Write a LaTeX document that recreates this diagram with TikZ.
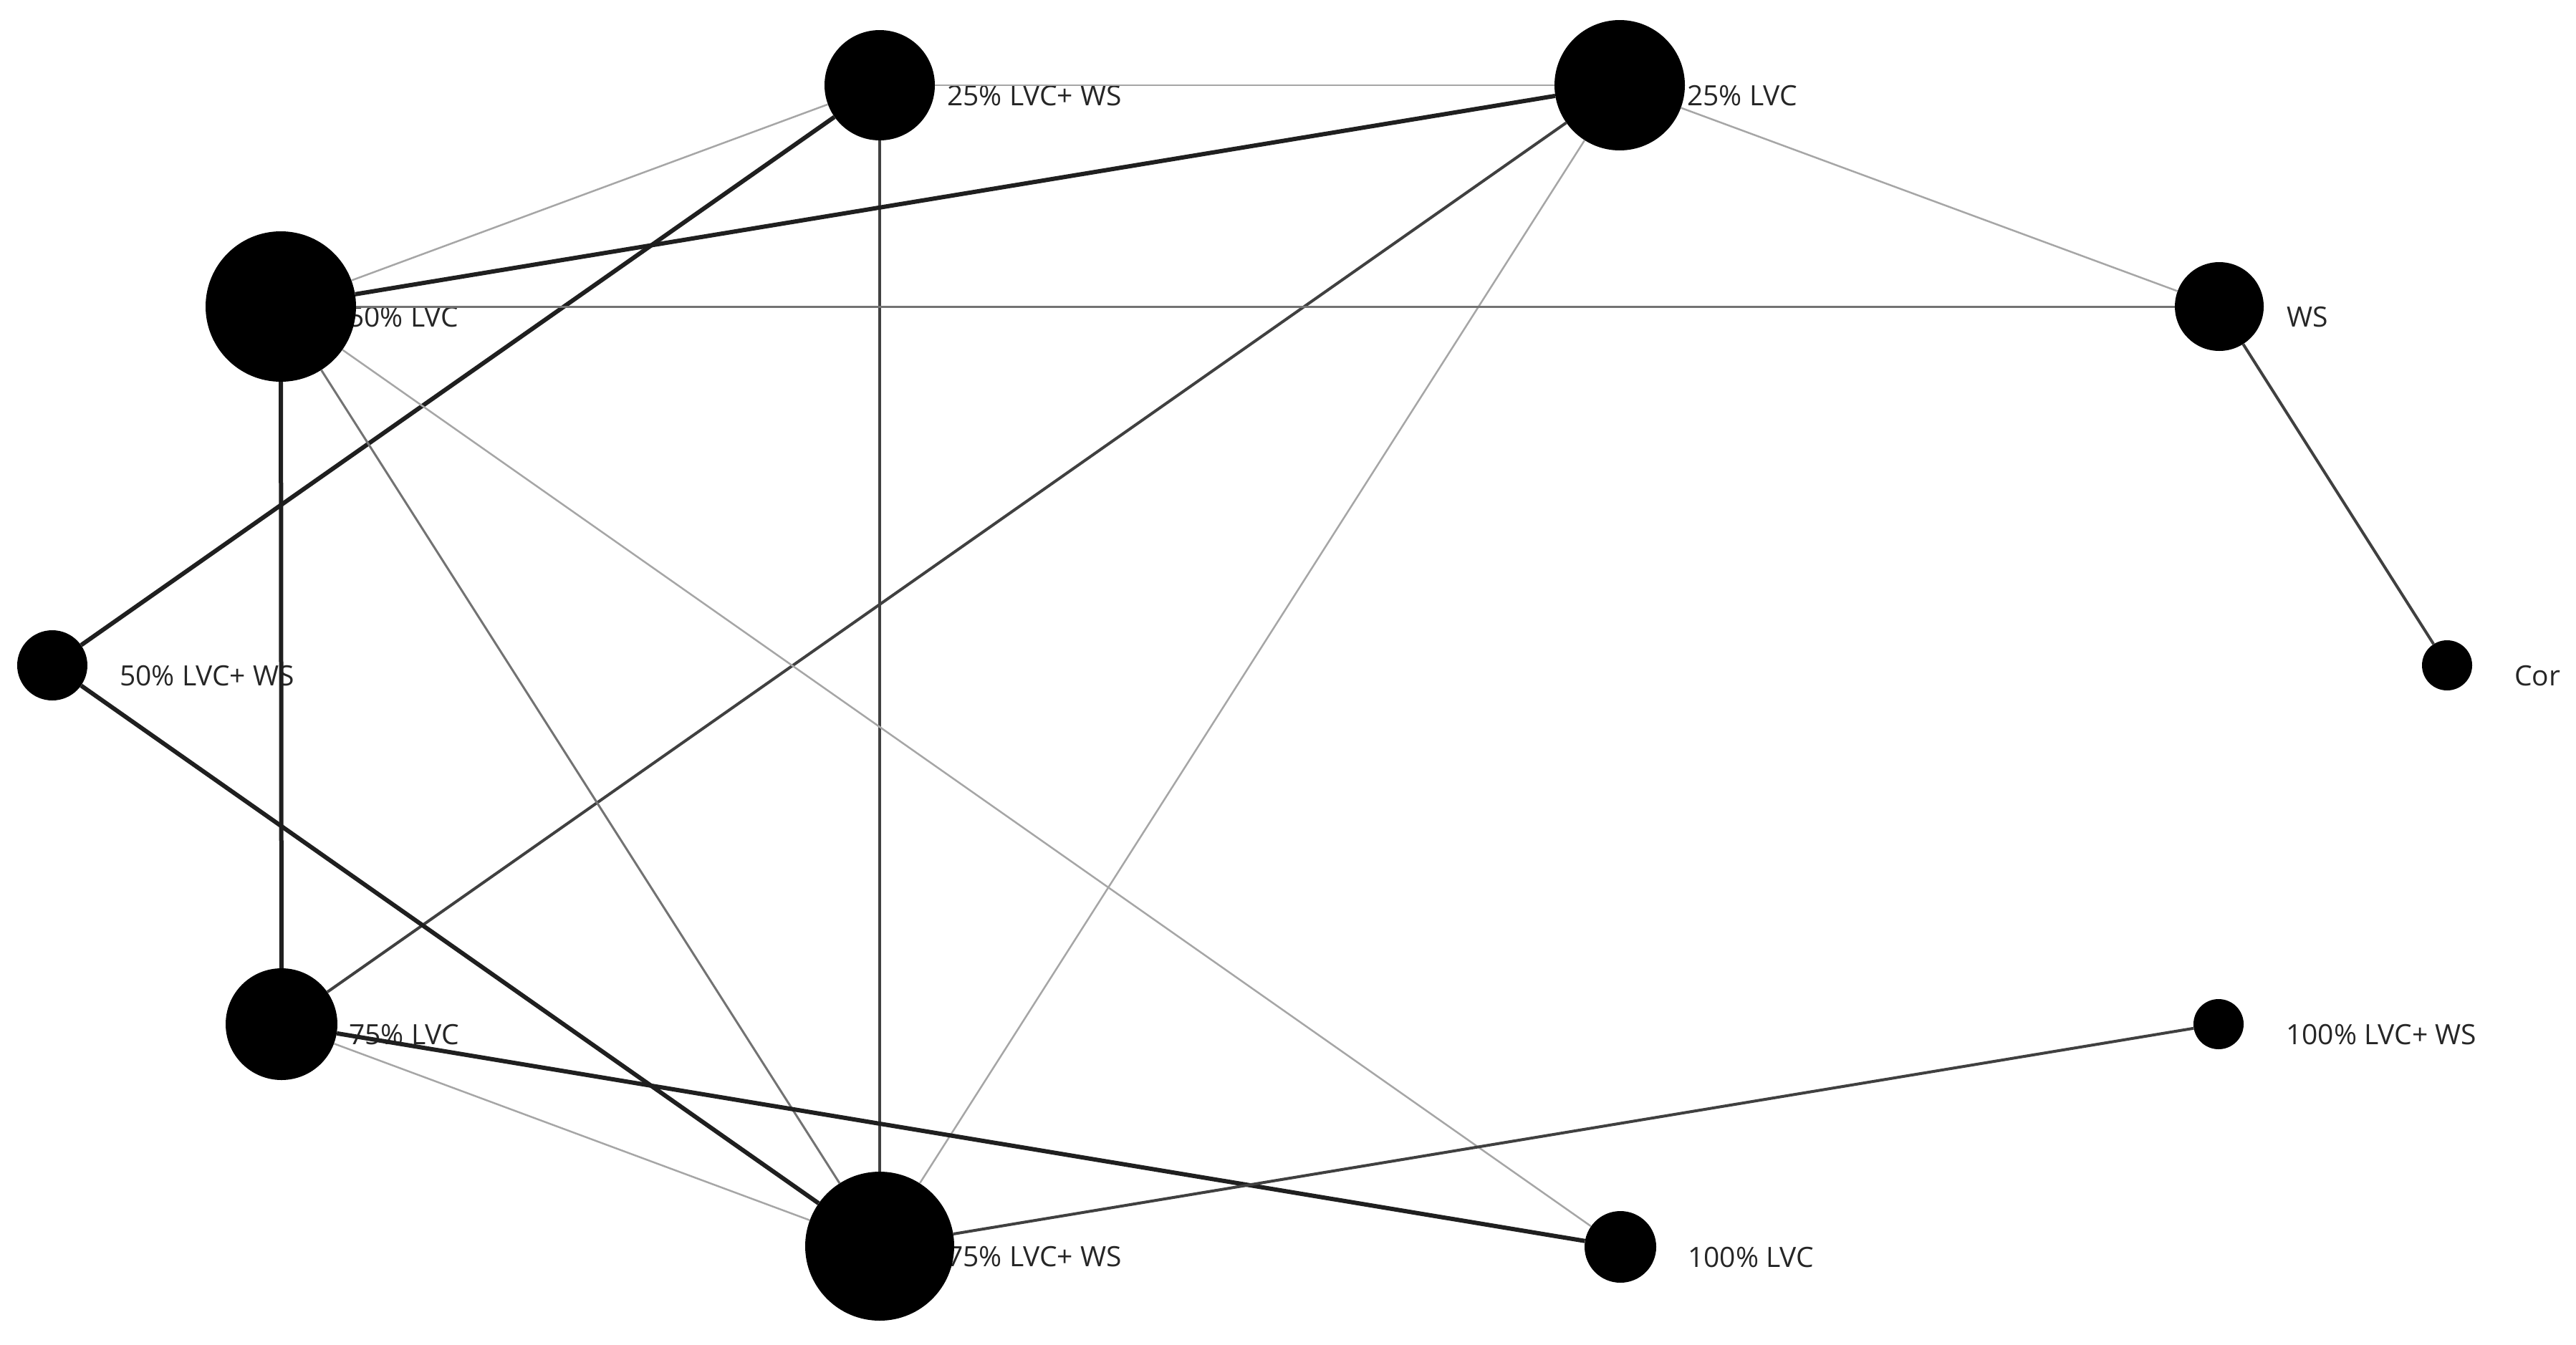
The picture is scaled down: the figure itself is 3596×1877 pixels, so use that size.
\documentclass[tikz,border=0pt]{standalone}
\usepackage{fontspec}
\setmainfont{Open Sans}
\begin{document}
\begin{tikzpicture}[x=1pt,y=-1pt,
  nd/.style={circle,fill=black,draw=none,inner sep=0pt},
  lbl/.style={anchor=base west,inner sep=0pt,text=black!85,font=\fontsize{39}{46}\selectfont},
  e1/.style={line width=2.5pt,draw=black!35},
  e2/.style={line width=3pt,draw=black!55},
  e3/.style={line width=4pt,draw=black!75},
  e4/.style={line width=6pt,draw=black!88}]
\useasboundingbox (0,0) rectangle (3596,1877);
% labels (behind nodes)
\node[lbl] (lA) at (1322,147) {25\% LVC+ WS};
\node[lbl] (lB) at (2355,147) {25\% LVC};
\node[lbl] (lC) at (486,456) {50\% LVC};
\node[lbl] (lW) at (3192,456) {WS};
\node[lbl] (lE) at (167,957) {50\% LVC+ WS};
\node[lbl] (lK) at (3510,957) {Cor};
\node[lbl] (lF) at (487,1458) {75\% LVC};
\node[lbl] (lG) at (3191,1458) {100\% LVC+ WS};
\node[lbl] (lH) at (1322,1768) {75\% LVC+ WS};
\node[lbl] (lI) at (2356,1769) {100\% LVC};
% nodes
\node[nd,minimum size=154] (A) at (1228,119) {};
\node[nd,minimum size=182] (B) at (2261,119) {};
\node[nd,minimum size=210] (C) at (392,428) {};
\node[nd,minimum size=124] (W) at (3098,428) {};
\node[nd,minimum size=98]  (E) at (73,929) {};
\node[nd,minimum size=70]  (K) at (3416,929) {};
\node[nd,minimum size=156] (F) at (393,1430) {};
\node[nd,minimum size=70]  (G) at (3097,1430) {};
\node[nd,minimum size=208] (H) at (1228,1740) {};
\node[nd,minimum size=100] (I) at (2262,1741) {};
% edges
\draw[e1] (A) -- (B);
\draw[e1] (A) -- (C);
\draw[e4] (A) -- (E);
\draw[e3] (A) -- (H);
\draw[e4] (B) -- (C);
\draw[e1] (B) -- (W);
\draw[e3] (B) -- (F);
\draw[e1] (B) -- (H);
\draw[e2] (C) -- (W);
\draw[e4] (C) -- (F);
\draw[e2] (C) -- (H);
\draw[e1] (C) -- (I);
\draw[e4] (E) -- (H);
\draw[e3] (W) -- (K);
\draw[e1] (F) -- (H);
\draw[e4] (F) -- (I);
\draw[e3] (H) -- (G);
\end{tikzpicture}
\end{document}
